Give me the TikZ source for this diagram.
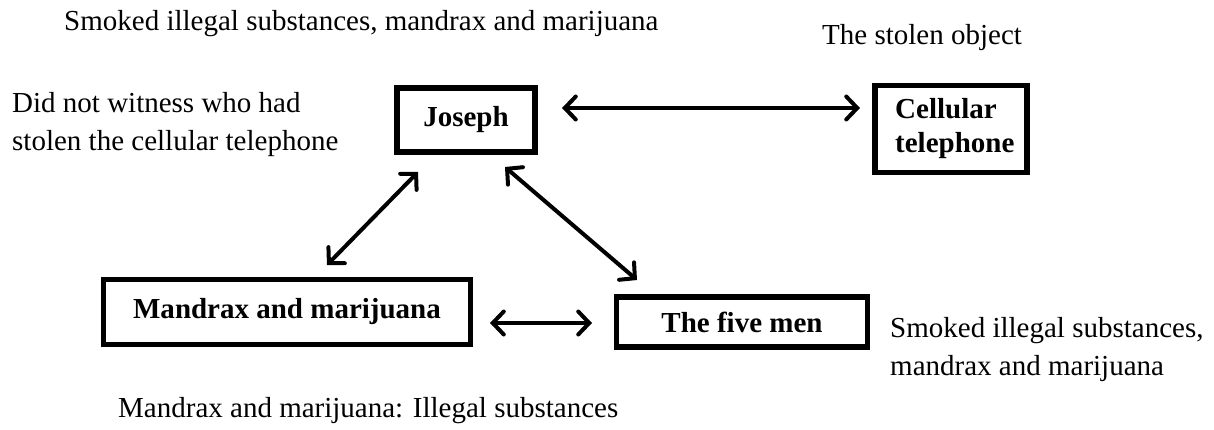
\documentclass[tikz,border=0pt]{standalone}
\usepackage{fontspec}
\setmainfont{Liberation Serif}
\usetikzlibrary{arrows.meta}
\begin{document}
\begin{tikzpicture}[x=1pt,y=-1pt,
  box/.style={draw,line width=5.5pt,inner sep=0pt,font=\fontsize{29}{34}\selectfont\bfseries},
  lbl/.style={font=\fontsize{29}{38}\selectfont,inner sep=0pt,anchor=base west},
  mlbl/.style={font=\fontsize{29}{38}\selectfont,inner sep=0pt,anchor=north west,align=left},
  conn/.style={line width=4pt,{Straight Barb[length=11pt,width=23pt,line cap=round]}-{Straight Barb[length=11pt,width=23pt,line cap=round]}}]
\useasboundingbox (0,0) rectangle (1214,430);
% boxes
\node[box,minimum width=138pt,minimum height=64pt] (jos) at (466,120) {Joseph};
\node[box,minimum width=152pt,minimum height=87pt] (cell) at (951,129) {};
\node[font=\fontsize{29}{34}\selectfont\bfseries,inner sep=0pt,anchor=north west,align=left] (celltxt) at (895,98) {Cellular\\telephone};
\node[box,minimum width=367pt,minimum height=65pt] (man) at (287,312) {Mandrax and marijuana};
\node[box,minimum width=251pt,minimum height=50pt] (five) at (742,322) {The five men};
% connector end points
\coordinate (a1) at (562,108);
\coordinate (a2) at (860,108);
\coordinate (b1) at (418,172);
\coordinate (b2) at (327,265);
\coordinate (c1) at (505,167);
\coordinate (c2) at (637,280);
\coordinate (d1) at (490,323);
\coordinate (d2) at (592,323);
\draw[conn] (a1) -- (a2);
\draw[conn] (b1) -- (b2);
\draw[conn] (c1) -- (c2);
\draw[conn] (d1) -- (d2);
% labels
\node[lbl] (t1) at (64,31) {Smoked illegal substances, mandrax and marijuana};
\node[lbl] (t2) at (822,45) {The stolen object};
\node[mlbl] (t3) at (12,92) {Did not witness who had\\stolen the cellular telephone};
\node[mlbl] (t4) at (890,317) {Smoked illegal substances,\\mandrax and marijuana};
\node[lbl] (t5) at (118,417) {Mandrax and marijuana: Illegal substances};
\end{tikzpicture}
\end{document}
